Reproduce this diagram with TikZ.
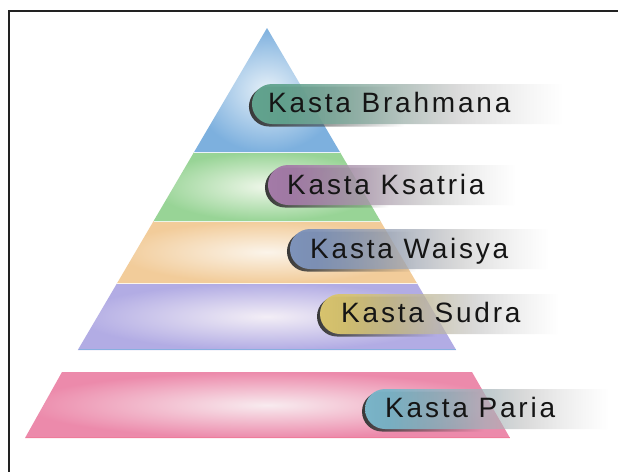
\documentclass[tikz,border=0pt]{standalone}
\usepackage{fontspec}
\setmainfont{Liberation Sans}
\newfontfamily\pillfont[LetterSpace=10]{Liberation Sans}
\usetikzlibrary{fadings}
\definecolor{frameC}{HTML}{222222}
\definecolor{blueIn}{HTML}{E6F0F8}\definecolor{blueOut}{HTML}{7DB0DE}
\definecolor{greenIn}{HTML}{EFF7EA}\definecolor{greenOut}{HTML}{98D496}
\definecolor{peachIn}{HTML}{FBF4EA}\definecolor{peachOut}{HTML}{F2CC9A}
\definecolor{purpIn}{HTML}{F3EEF6}\definecolor{purpOut}{HTML}{B2ACE4}
\definecolor{pinkIn}{HTML}{F8EBEF}\definecolor{pinkOut}{HTML}{EC8AAB}
\definecolor{pB}{HTML}{62A48F}
\definecolor{pK}{HTML}{A47BA8}
\definecolor{pW}{HTML}{7E93BA}
\definecolor{pS}{HTML}{D8C46E}
\definecolor{pP}{HTML}{7AB5C9}
\definecolor{txt}{HTML}{151515}
\tikzfading[name=pillfade, left color=transparent!0, right color=transparent!100, middle color=transparent!30]
\tikzfading[name=shadowfade, left color=transparent!0, right color=transparent!100, middle color=transparent!100]
\pgfdeclarehorizontalshading{shB}{100bp}{color(0bp)=(pB); color(30bp)=(pB); color(58bp)=(gray!60); color(100bp)=(gray!18)}
\pgfdeclarehorizontalshading{shK}{100bp}{color(0bp)=(pK); color(30bp)=(pK); color(58bp)=(gray!60); color(100bp)=(gray!18)}
\pgfdeclarehorizontalshading{shW}{100bp}{color(0bp)=(pW); color(30bp)=(pW); color(58bp)=(gray!60); color(100bp)=(gray!18)}
\pgfdeclarehorizontalshading{shS}{100bp}{color(0bp)=(pS); color(30bp)=(pS); color(58bp)=(gray!60); color(100bp)=(gray!18)}
\pgfdeclarehorizontalshading{shP}{100bp}{color(0bp)=(pP); color(30bp)=(pP); color(58bp)=(gray!60); color(100bp)=(gray!18)}
\newcommand\drawpill[4]{%
  \fill[black!78, path fading=shadowfade]
    ({#1+20-3},{#3-20+2.5}) -- ({#2-3},{#3-20+2.5}) -- ({#2-3},{#3+20+2.5}) -- ({#1+20-3},{#3+20+2.5})
    arc[start angle=90,end angle=270,radius=20] -- cycle;
  \shade[shading=#4, path fading=pillfade]
    ({#1+20},{#3-20}) -- (#2,{#3-20}) -- (#2,{#3+20}) -- ({#1+20},{#3+20})
    arc[start angle=90,end angle=270,radius=20] -- cycle;
}
\begin{document}
\begin{tikzpicture}[x=1pt,y=-1pt,
  lbl/.style={anchor=base west, inner sep=0pt, text=txt, font=\pillfont\fontsize{28}{28}\selectfont},
  band/.style={draw=none}]
\useasboundingbox (0,0) rectangle (618,472);
\fill[white] (0,0) rectangle (618,472);
% pyramid bands
\shade[band, inner color=blueIn, outer color=blueOut] (267,28) -- (339.9,152) -- (194.1,152) -- cycle;
\shade[band, inner color=greenIn, outer color=greenOut] (194.1,152) -- (339.9,152) -- (380.4,221) -- (153.6,221) -- cycle;
\shade[band, inner color=peachIn, outer color=peachOut] (153.6,221) -- (380.4,221) -- (416.8,283) -- (117.2,283) -- cycle;
\shade[band, inner color=purpIn, outer color=purpOut] (117.2,283) -- (416.8,283) -- (456.2,350) -- (77.8,350) -- cycle;
\shade[band, inner color=pinkIn, outer color=pinkOut] (62,372) -- (472,372) -- (510,438) -- (25,438) -- cycle;
% light separators and darker bottom edges
\draw[white!85!blueOut, line width=1pt] (194.1,152) -- (339.9,152);
\draw[white!80!greenOut, line width=1pt] (153.6,221) -- (380.4,221);
\draw[white!80!peachOut, line width=1pt] (117.2,283) -- (416.8,283);
\draw[blueOut!80!purpOut, line width=1.4pt] (78.5,349.5) -- (455.5,349.5);
\draw[pinkOut!90!red, line width=1.6pt] (25.5,437.5) -- (509.5,437.5);
% pills
\drawpill{252}{562}{104}{shB}
\drawpill{268}{515}{185}{shK}
\drawpill{290}{548}{249}{shW}
\drawpill{320}{558}{314}{shS}
\drawpill{365}{608}{409}{shP}
% labels
\node[lbl] (tB) at (268,112) {Kasta Brahmana};
\node[lbl] (tK) at (287,194) {Kasta Ksatria};
\node[lbl] (tW) at (310,258) {Kasta Waisya};
\node[lbl] (tS) at (341,322) {Kasta Sudra};
\node[lbl] (tP) at (385,417) {Kasta Paria};
% frame
\draw[frameC, line width=2.4pt] (618,11) -- (9.2,11) -- (9.2,472);
\end{tikzpicture}
\end{document}
